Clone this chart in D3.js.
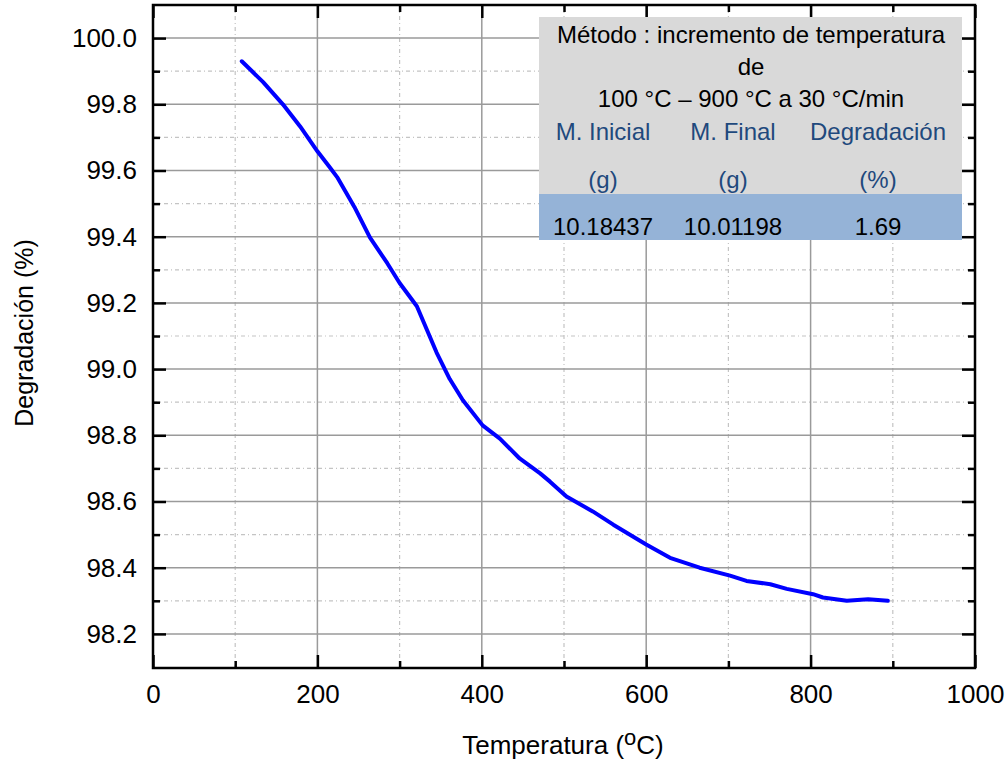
<!DOCTYPE html>
<html>
<head>
<meta charset="utf-8">
<script src="https://cdn.jsdelivr.net/npm/d3@7"></script>
<style>
  body { margin: 0; background: #fff; }
  svg { display: block; }
</style>
</head>
<body>
<svg></svg>
<script>
// curva TGA: temperatura (°C) vs degradación (%)
const temperatura = [108, 134, 158, 179, 200, 215, 224, 245, 264, 285, 300, 321, 345, 361, 377, 401, 422, 446, 471, 483, 503, 535, 560, 600, 629, 665, 702, 722, 751, 771, 803, 815, 844, 870, 894];
const degradacion = [99.93, 99.867, 99.80, 99.733, 99.658, 99.61, 99.58, 99.49, 99.397, 99.32, 99.26, 99.19, 99.05, 98.97, 98.906, 98.83, 98.79, 98.73, 98.685, 98.66, 98.615, 98.57, 98.53, 98.47, 98.43, 98.40, 98.376, 98.36, 98.35, 98.336, 98.32, 98.31, 98.30, 98.305, 98.30];

const xMajorTicks = [0, 200, 400, 600, 800, 1000];
const xMinorTicks = [100, 300, 500, 700, 900];
const yMajorTicks = [98.2, 98.4, 98.6, 98.8, 99.0, 99.2, 99.4, 99.6, 99.8, 100.0];
const yMinorTicks = [98.3, 98.5, 98.7, 98.9, 99.1, 99.3, 99.5, 99.7, 99.9];

const tablaTitulo = ['Método : incremento de temperatura', 'de', '100 °C – 900 °C a 30 °C/min'];
const tablaEncabezado = ['M. Inicial', 'M. Final', 'Degradación'];
const tablaUnidades = ['(g)', '(g)', '(%)'];
const tablaValores = ['10.18437', '10.01198', '1.69'];

const WIDTH = 1008;
const HEIGHT = 761;
const PADDING_LEFT = 153;
const PADDING_RIGHT = 33;
const PADDING_TOP = 5;
const PADDING_BOTTOM = 93;

const INNER_WIDTH = WIDTH - (PADDING_LEFT + PADDING_RIGHT);
const INNER_HEIGHT = HEIGHT - (PADDING_TOP + PADDING_BOTTOM);

const FONT = '"Liberation Sans", Arial, sans-serif';

const svg = d3.select('svg')
  .attr('width', WIDTH)
  .attr('height', HEIGHT)
  .attr('font-family', FONT);

const xScale = d3.scaleLinear().domain([0, 1000]).range([0, INNER_WIDTH]);
const yScale = d3.scaleLinear().domain([98.097, 100.1]).range([INNER_HEIGHT, 0]);

const g = svg.append('g')
  .attr('transform', `translate(${PADDING_LEFT}, ${PADDING_TOP})`);

// grid
g.selectAll('.vminor').data(xMinorTicks).enter().append('line')
  .attr('x1', d => xScale(d)).attr('x2', d => xScale(d))
  .attr('y1', 0).attr('y2', INNER_HEIGHT)
  .attr('stroke', '#c4c4c4').attr('stroke-width', 1.2)
  .attr('stroke-dasharray', '4,3,1,3');

g.selectAll('.hminor').data(yMinorTicks).enter().append('line')
  .attr('x1', 0).attr('x2', INNER_WIDTH)
  .attr('y1', d => yScale(d)).attr('y2', d => yScale(d))
  .attr('stroke', '#c4c4c4').attr('stroke-width', 1.2)
  .attr('stroke-dasharray', '4,3,1,3');

g.selectAll('.vmajor').data(xMajorTicks.slice(1, -1)).enter().append('line')
  .attr('x1', d => xScale(d)).attr('x2', d => xScale(d))
  .attr('y1', 0).attr('y2', INNER_HEIGHT)
  .attr('stroke', '#9a9a9a').attr('stroke-width', 1.5);

g.selectAll('.hmajor').data(yMajorTicks).enter().append('line')
  .attr('x1', 0).attr('x2', INNER_WIDTH)
  .attr('y1', d => yScale(d)).attr('y2', d => yScale(d))
  .attr('stroke', '#9a9a9a').attr('stroke-width', 1.5);

// curve
const puntos = temperatura.map((t, i) => [t, degradacion[i]]);
g.append('path')
  .datum(puntos)
  .attr('fill', 'none')
  .attr('stroke', '#0000ff')
  .attr('stroke-width', 4)
  .attr('stroke-linejoin', 'round')
  .attr('stroke-linecap', 'round')
  .attr('d', d3.line().x(d => xScale(d[0])).y(d => yScale(d[1])));

// axes (ticks inward)
function styleAxis(sel) {
  sel.select('.domain').remove();
  sel.selectAll('line').attr('stroke', '#000').attr('stroke-width', 2.5);
  sel.selectAll('text').attr('font-size', 26).attr('fill', '#000').attr('font-family', FONT);
}

g.append('g').attr('transform', `translate(0, ${INNER_HEIGHT})`)
  .call(d3.axisBottom(xScale).tickValues(xMajorTicks).tickSize(-13).tickPadding(17).tickFormat(d3.format('d')))
  .call(styleAxis);
g.append('g').attr('transform', `translate(0, ${INNER_HEIGHT})`)
  .call(d3.axisBottom(xScale).tickValues(xMinorTicks).tickSize(-7).tickFormat(''))
  .call(styleAxis);
g.append('g')
  .call(d3.axisTop(xScale).tickValues(xMajorTicks).tickSize(-13).tickFormat(''))
  .call(styleAxis);
g.append('g')
  .call(d3.axisTop(xScale).tickValues(xMinorTicks).tickSize(-7).tickFormat(''))
  .call(styleAxis);

g.append('g')
  .call(d3.axisLeft(yScale).tickValues(yMajorTicks).tickSize(-13).tickPadding(16).tickFormat(d3.format('.1f')))
  .call(styleAxis);
g.append('g')
  .call(d3.axisLeft(yScale).tickValues(yMinorTicks).tickSize(-7).tickFormat(''))
  .call(styleAxis);
g.append('g').attr('transform', `translate(${INNER_WIDTH}, 0)`)
  .call(d3.axisRight(yScale).tickValues(yMajorTicks).tickSize(-13).tickFormat(''))
  .call(styleAxis);
g.append('g').attr('transform', `translate(${INNER_WIDTH}, 0)`)
  .call(d3.axisRight(yScale).tickValues(yMinorTicks).tickSize(-7).tickFormat(''))
  .call(styleAxis);

// frame
g.append('rect')
  .attr('width', INNER_WIDTH).attr('height', INNER_HEIGHT)
  .attr('fill', 'none').attr('stroke', '#000').attr('stroke-width', 2.5);

// axis titles
svg.append('text')
  .attr('transform', `translate(33, 333) rotate(-90)`)
  .attr('text-anchor', 'middle')
  .attr('font-size', 25)
  .attr('fill', '#000')
  .text('Degradación (%)');

const xTitle = svg.append('text')
  .attr('x', 563).attr('y', 754)
  .attr('text-anchor', 'middle')
  .attr('font-size', 26)
  .attr('fill', '#000');
xTitle.append('tspan').text('Temperatura (');
xTitle.append('tspan').attr('font-size', 22).attr('dy', -9).text('o');
xTitle.append('tspan').attr('dy', 9).text('C)');

// table
const TABLE_X = 539;
const TABLE_W = 423;
const colCenters = [603, 733, 878];

const tabla = svg.append('g').attr('font-size', 24);
tabla.append('rect').attr('x', TABLE_X).attr('y', 17).attr('width', TABLE_W).attr('height', 177).attr('fill', '#d9d9d9');
tabla.append('rect').attr('x', TABLE_X).attr('y', 194).attr('width', TABLE_W).attr('height', 46).attr('fill', '#95b3d7');

tabla.selectAll('.titulo').data(tablaTitulo).enter().append('text')
  .attr('x', 751).attr('y', (d, i) => 43 + i * 32)
  .attr('text-anchor', 'middle').attr('fill', '#000')
  .text(d => d);

tabla.selectAll('.enc').data(tablaEncabezado).enter().append('text')
  .attr('x', (d, i) => colCenters[i]).attr('y', 140)
  .attr('text-anchor', 'middle').attr('fill', '#1f497d')
  .text(d => d);

tabla.selectAll('.uni').data(tablaUnidades).enter().append('text')
  .attr('x', (d, i) => colCenters[i]).attr('y', 188)
  .attr('text-anchor', 'middle').attr('fill', '#1f497d')
  .text(d => d);

tabla.selectAll('.val').data(tablaValores).enter().append('text')
  .attr('x', (d, i) => colCenters[i]).attr('y', 235)
  .attr('text-anchor', 'middle').attr('fill', '#000')
  .text(d => d);
</script>
</body>
</html>
